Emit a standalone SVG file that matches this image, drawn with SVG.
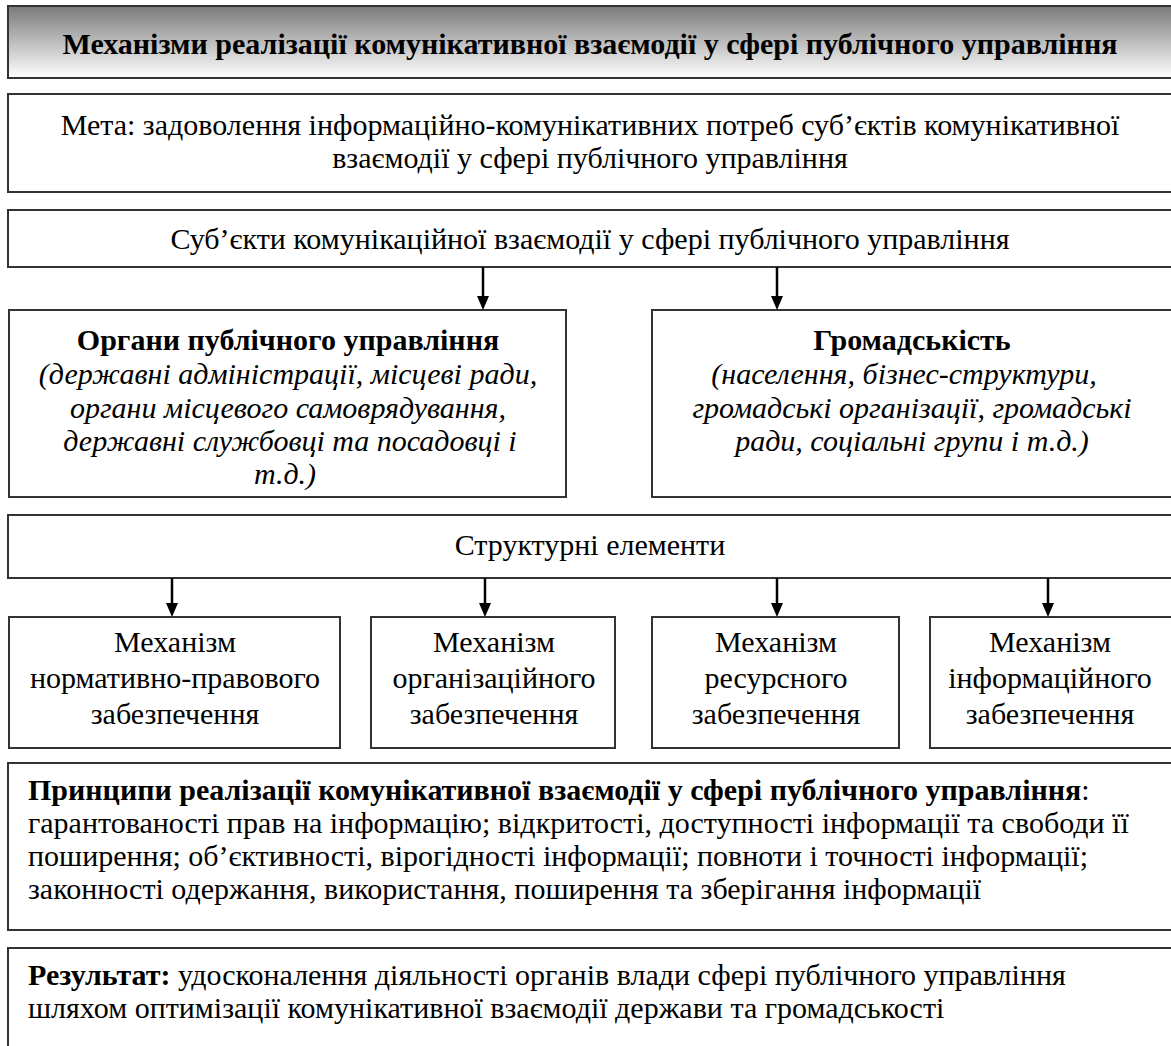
<svg xmlns="http://www.w3.org/2000/svg" width="1171" height="1046" viewBox="0 0 1171 1046">
<defs>
<linearGradient id="tg" x1="0" y1="0" x2="0" y2="1">
<stop offset="0" stop-color="#7a7a7a"/>
<stop offset="1" stop-color="#ffffff"/>
</linearGradient>
<marker id="ah" markerWidth="14" markerHeight="12" refX="0" refY="6" orient="auto" markerUnits="userSpaceOnUse" viewBox="0 0 14 12">
<path d="M0,0 L14,6 L0,12 Z" fill="#000"/>
</marker>
<style>
.box{fill:#fff;stroke:#333;stroke-width:2}
.t{font-family:"Liberation Serif","Times New Roman",serif;font-size:30px;fill:#000}
.m{text-anchor:middle}
.b{font-weight:bold}
.i{font-style:italic}
.arr{stroke:#000;stroke-width:2.5;fill:none}
</style>
</defs>
<rect width="1171" height="1046" fill="#fff"/>
<g id="title">
<rect x="8" y="6" width="1165" height="72" fill="url(#tg)" stroke="#333" stroke-width="2"/>
<text class="t m b" x="590" y="54">Механізми реалізації комунікативної взаємодії у сфері публічного управління</text>
</g>
<g id="meta">
<rect class="box" x="8" y="94" width="1165" height="98"/>
<text class="t m" x="590" y="135">Мета: задоволення інформаційно-комунікативних потреб суб’єктів комунікативної</text>
<text class="t m" x="590" y="168">взаємодії у сфері публічного управління</text>
</g>
<g id="subjects">
<rect class="box" x="8" y="210" width="1165" height="57"/>
<text class="t m" x="590" y="249">Суб’єкти комунікаційної взаємодії у сфері публічного управління</text>
</g>
<g id="organs">
<rect class="box" x="9" y="310" width="557" height="187"/>
<text class="t m b" x="288" y="350">Органи публічного управління</text>
<text class="t m i" x="288" y="384">(державні адміністрації, місцеві ради,</text>
<text class="t m i" x="288" y="418">органи місцевого самоврядування,</text>
<text class="t m i" x="290" y="451">державні службовці та посадовці і</text>
<text class="t m i" x="285" y="484">т.д.)</text>
</g>
<g id="public">
<rect class="box" x="652" y="310" width="521" height="187"/>
<text class="t m b" x="912" y="350">Громадськість</text>
<text class="t m i" x="904" y="384">(населення, бізнес-структури,</text>
<text class="t m i" x="912" y="418">громадські організації, громадські</text>
<text class="t m i" x="912" y="451">ради, соціальні групи і т.д.)</text>
</g>
<g id="structural">
<rect class="box" x="8" y="515" width="1165" height="63"/>
<text class="t m" x="590" y="555">Структурні елементи</text>
</g>
<g id="mech1">
<rect class="box" x="9" y="617" width="331" height="131"/>
<text class="t m" x="175" y="652">Механізм</text>
<text class="t m" x="175" y="688">нормативно-правового</text>
<text class="t m" x="175" y="724">забезпечення</text>
</g>
<g id="mech2">
<rect class="box" x="371" y="617" width="244" height="131"/>
<text class="t m" x="494" y="652">Механізм</text>
<text class="t m" x="494" y="688">організаційного</text>
<text class="t m" x="494" y="724">забезпечення</text>
</g>
<g id="mech3">
<rect class="box" x="652" y="617" width="247" height="131"/>
<text class="t m" x="776" y="652">Механізм</text>
<text class="t m" x="776" y="688">ресурсного</text>
<text class="t m" x="776" y="724">забезпечення</text>
</g>
<g id="mech4">
<rect class="box" x="930" y="617" width="243" height="131"/>
<text class="t m" x="1050" y="652">Механізм</text>
<text class="t m" x="1050" y="688">інформаційного</text>
<text class="t m" x="1050" y="724">забезпечення</text>
</g>
<g id="principles">
<rect class="box" x="8" y="763" width="1165" height="167"/>
<text class="t" x="28" y="800"><tspan class="b">Принципи реалізації комунікативної взаємодії у сфері публічного управління</tspan>:</text>
<text class="t" x="28" y="833">гарантованості прав на інформацію; відкритості, доступності інформації та свободи її</text>
<text class="t" x="28" y="866">поширення; об’єктивності, вірогідності інформації; повноти і точності інформації;</text>
<text class="t" x="28" y="899">законності одержання, використання, поширення та зберігання інформації</text>
</g>
<g id="result">
<rect class="box" x="8" y="948" width="1165" height="110"/>
<text class="t" x="28" y="985"><tspan class="b">Результат:</tspan> удосконалення діяльності органів влади сфері публічного управління</text>
<text class="t" x="28" y="1018">шляхом оптимізації комунікативної взаємодії держави та громадськості</text>
</g>
<g id="connectors">
<line class="arr" x1="483" y1="267" x2="483" y2="296" marker-end="url(#ah)"/>
<line class="arr" x1="777" y1="267" x2="777" y2="296" marker-end="url(#ah)"/>
<line class="arr" x1="172" y1="578" x2="172" y2="603" marker-end="url(#ah)"/>
<line class="arr" x1="485" y1="578" x2="485" y2="603" marker-end="url(#ah)"/>
<line class="arr" x1="777" y1="578" x2="777" y2="603" marker-end="url(#ah)"/>
<line class="arr" x1="1048" y1="578" x2="1048" y2="603" marker-end="url(#ah)"/>
</g>
</svg>
